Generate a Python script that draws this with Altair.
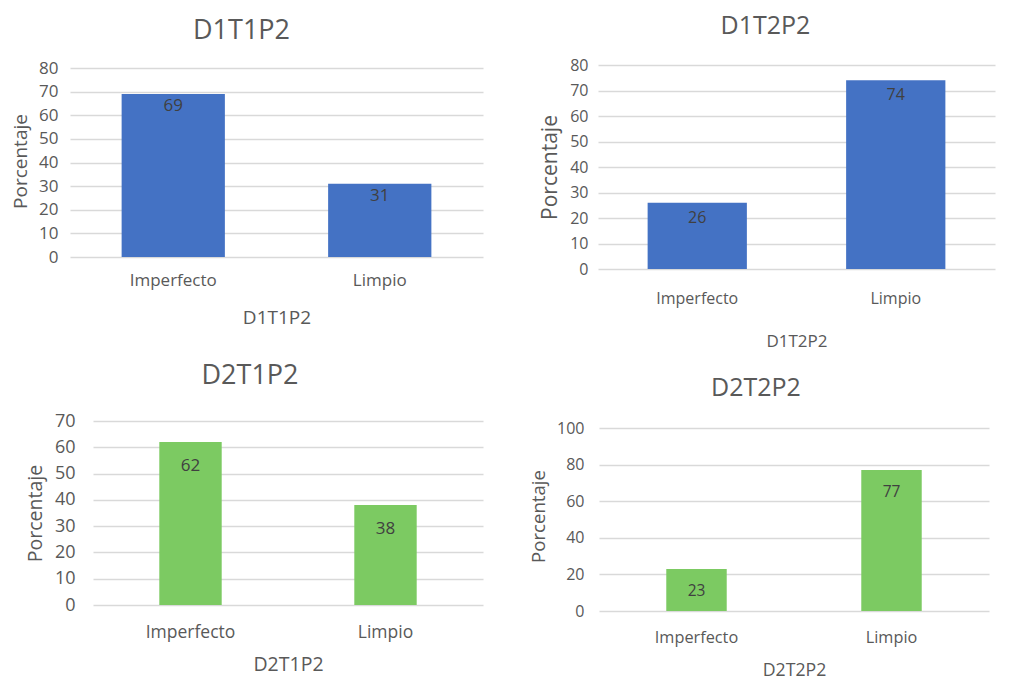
import altair as alt
import pandas as pd

categories = ["Imperfecto", "Limpio"]
d1t1p2 = [69, 31]
d1t2p2 = [26, 74]
d2t1p2 = [62, 38]
d2t2p2 = [23, 77]

BLUE = "#4472C4"
GREEN = "#7CCA62"
GRID = "#d9d9d9"
AX = "#595959"
LBL = "#404040"
FONT = "Open Sans"


def panel(name, values, color, width, height, ymax, ticks, pad, fs, ts, yts, xts,
          lpad_y, tpad_y, lpad_x, tpad_x, t_dx, t_off, dlab, dfs):
    df = pd.DataFrame({"cat": categories, "val": values})
    base = alt.Chart(df).encode(
        x=alt.X("cat:N", sort=categories,
                scale=alt.Scale(paddingInner=pad, paddingOuter=pad / 2),
                axis=alt.Axis(title=name, labelAngle=0, domain=False, ticks=False, tickSize=0,
                              labelFontSize=fs, labelColor=AX, labelFont=FONT,
                              labelPadding=lpad_x, titleFontSize=xts, titleColor=AX,
                              titleFont=FONT, titleFontWeight="normal", titlePadding=tpad_x)),
        y=alt.Y("val:Q", scale=alt.Scale(domain=[0, ymax], nice=False),
                axis=alt.Axis(title="Porcentaje", values=ticks, domain=False, ticks=False, tickSize=0,
                              gridColor=GRID, gridWidth=1.6, labelFontSize=yts,
                              labelColor=AX, labelFont=FONT, labelPadding=lpad_y,
                              titleFontSize=ts, titleColor=AX, titleFont=FONT,
                              titleFontWeight="normal", titlePadding=tpad_y)),
    )
    bars = base.mark_bar(color=color)
    text = base.mark_text(color=LBL, font=FONT, fontSize=dfs, baseline="middle", dy=dlab).encode(
        text=alt.Text("val:Q"))
    return (bars + text).properties(
        width=width, height=height,
        title=alt.Title(name, fontSize=t_off[1], font=FONT, fontWeight="normal", color=AX,
                        anchor="middle", dx=t_dx, offset=t_off[0], baseline="alphabetic"))


def spacer(w):
    sdf = pd.DataFrame({"v": [0]})
    return alt.Chart(sdf).mark_point(opacity=0).encode(
        x=alt.X("v:Q", axis=None), y=alt.Y("v:Q", axis=None)).properties(width=w, height=10)


p1 = panel("D1T1P2", d1t1p2, BLUE, 413, 192, 80 * 192 / 189, list(range(0, 81, 10)), 0.5,
           17, 19, 17, 19, 12, 8, 15, 20, -35, (-6.5, 27), 12, 17)
p2 = panel("D1T2P2", d1t2p2, BLUE, 397, 204, 80, list(range(0, 81, 10)), 0.5,
           16, 21, 16, 17, 10, 9, 21, 27, -31, (-1.5, 25), 15, 16)
p3 = panel("D2T1P2", d2t1p2, GREEN, 390, 184, 70, list(range(0, 71, 10)), 0.68,
           17.5, 19.5, 18, 19.5, 18, 9, 18, 15, -38, (1, 27), 24, 17)
p4 = panel("D2T2P2", d2t2p2, GREEN, 390, 190, 100 * 190 / 183, list(range(0, 101, 20)), 0.69,
           16.3, 18.6, 16, 17.7, 15, 8, 18, 16, -38, (-1, 25), 22, 15.5)

row1 = alt.hconcat(spacer(20), p1, spacer(115), p2, spacing=0, bounds="flush")
row2 = alt.hconcat(spacer(43), p3, spacer(116), p4, spacing=0, bounds="flush")

chart = alt.vconcat(row1, row2, spacing=13).properties(
    padding={"left": 3, "top": 5, "right": 5, "bottom": 6},
    background="white",
).configure_view(strokeWidth=0, stroke="transparent")

chart.save("out.html", embed_options={"renderer": "svg", "actions": False})
